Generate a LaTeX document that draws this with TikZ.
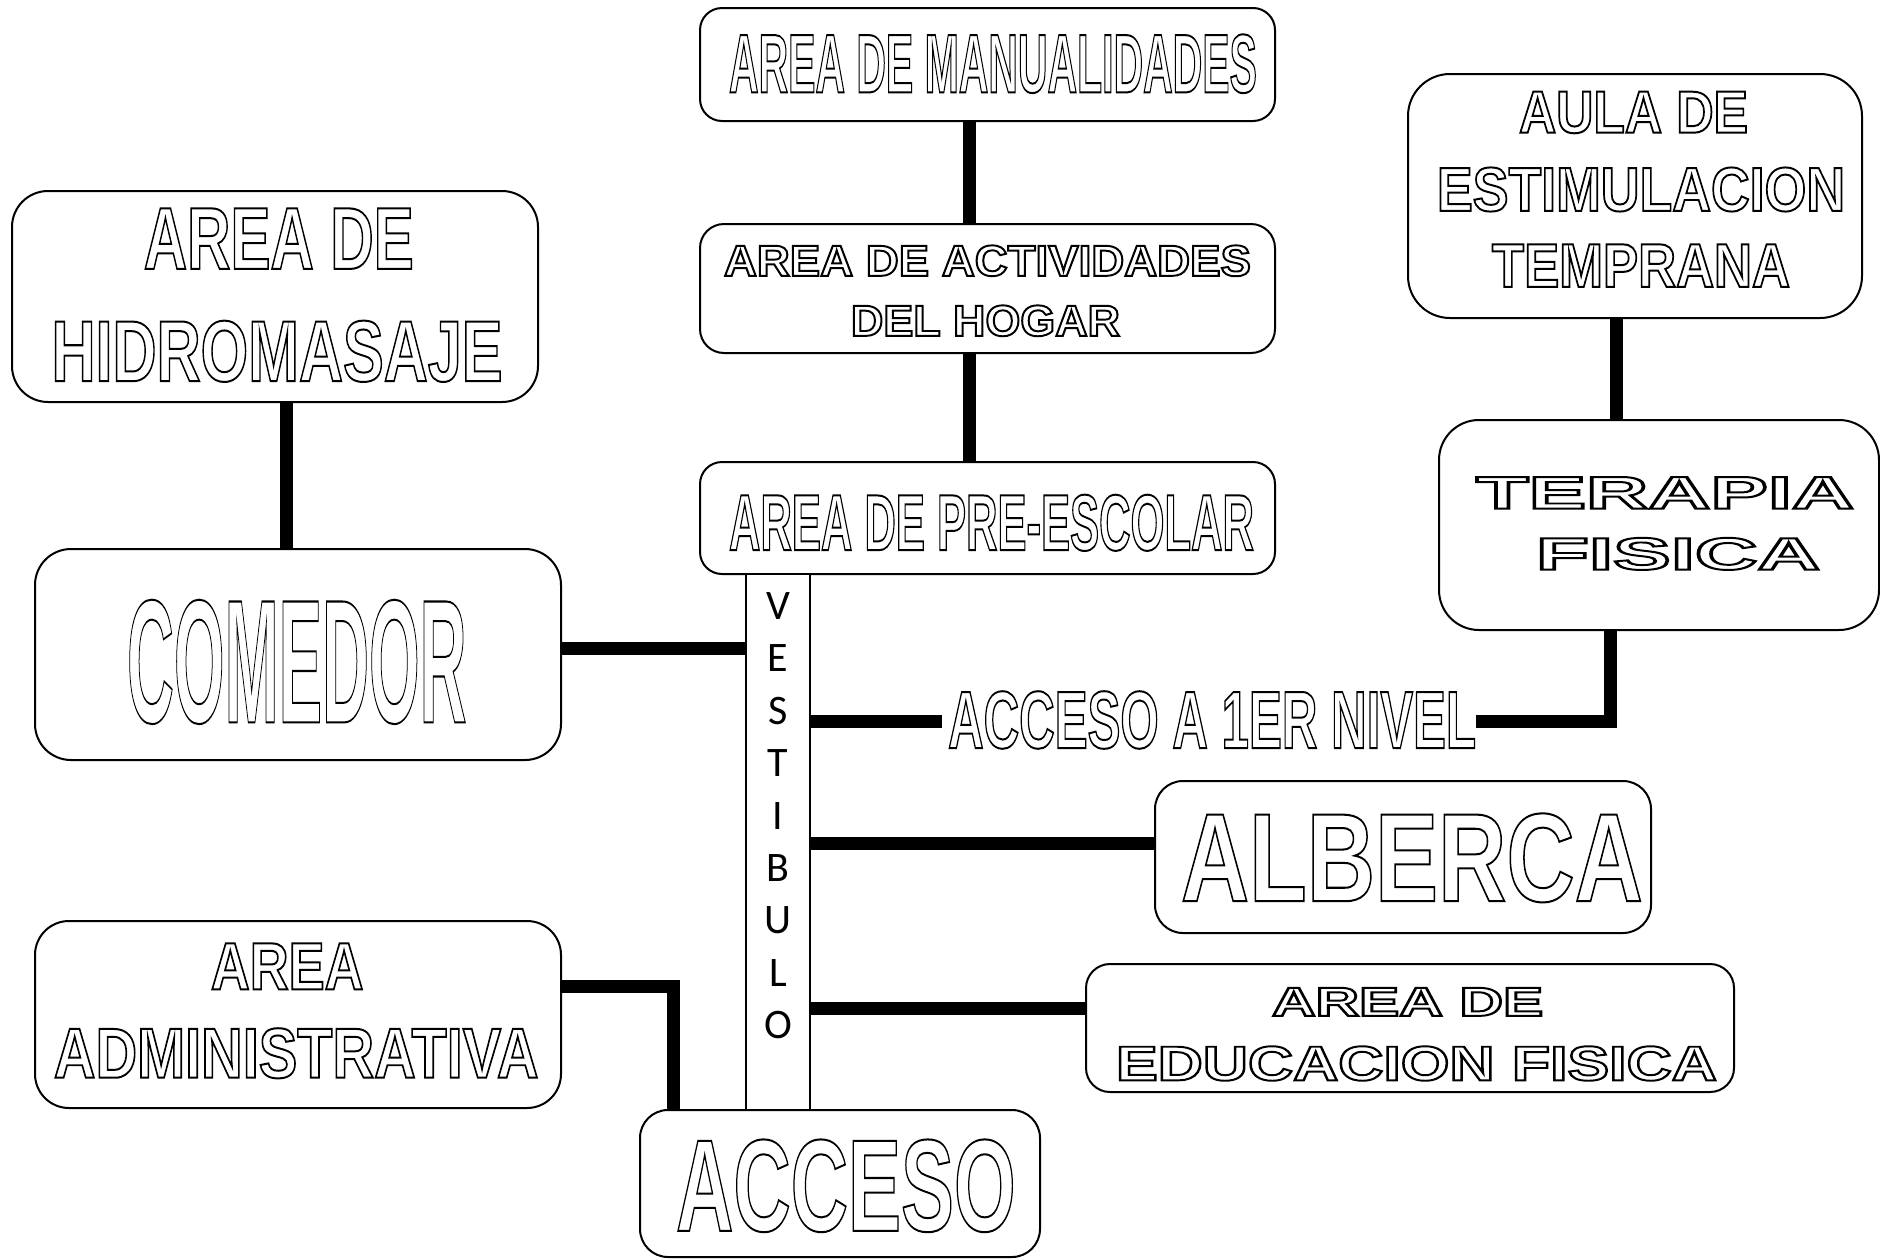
\documentclass[tikz,border=0pt]{standalone}
\usepackage{fontspec}
\usepackage{graphicx}
\setmainfont{Liberation Sans}
\newfontfamily\vfont{Carlito}
\newcommand\otext[3]{\resizebox{\dimexpr#1pt-2pt\relax}{\dimexpr#2pt-2pt\relax}{\fontsize{\dimexpr#2pt*100/72\relax}{\dimexpr#2pt*100/72\relax}\selectfont\bfseries\special{pdf:literal direct 1 Tr 2 w}#3\special{pdf:literal direct 0 Tr}}}
\tikzset{
  roombox/.style={draw=black, line width=2pt, fill=white, rounded corners=#1, inner sep=0pt, outer sep=0pt},
  lbl/.style={inner sep=0pt, outer sep=0pt},
  conn/.style={line width=13pt, line cap=butt, line join=miter},
  vlet/.style={inner sep=0pt, font=\vfont\fontsize{42}{42}\selectfont},
}
\begin{document}
\begin{tikzpicture}[x=1pt,y=-1pt]
\useasboundingbox[fill=white] (0,0) rectangle (1880,1259);
% boxes
\node[roombox=22pt, minimum width=575pt, minimum height=113pt] (man) at (987.5,64.5) {};
\node[roombox=24pt, minimum width=575pt, minimum height=129pt] (act) at (987.5,288.5) {};
\node[roombox=22pt, minimum width=575pt, minimum height=112pt] (pre) at (987.5,518) {};
\node[roombox=42pt, minimum width=454pt, minimum height=244pt] (est) at (1635,196) {};
\node[roombox=40pt, minimum width=440pt, minimum height=210pt] (ter) at (1659,525) {};
\node[roombox=36pt, minimum width=526pt, minimum height=211pt] (hid) at (275,296.5) {};
\node[roombox=36pt, minimum width=526pt, minimum height=211pt] (com) at (298,654.5) {};
\node[roombox=34pt, minimum width=526pt, minimum height=187pt] (adm) at (298,1014.5) {};
\node[roombox=28pt, minimum width=400pt, minimum height=147pt] (acc) at (840,1183.5) {};
\node[roombox=28pt, minimum width=496pt, minimum height=152pt] (alb) at (1403,857) {};
\node[roombox=24pt, minimum width=648pt, minimum height=128pt] (edu) at (1410,1028) {};
\node[draw, line width=2pt, fill=white, inner sep=0pt, outer sep=0pt, minimum width=64pt, minimum height=536pt] (ves) at (778,842) {};
% labels
\node[lbl] (manT) at (993,63.7) {\otext{530}{60}{AREA DE MANUALIDADES}};
\node[lbl] (actT1) at (987.5,260.8) {\otext{529}{32.4}{AREA DE ACTIVIDADES}};
\node[lbl] (actT2) at (985.5,320.8) {\otext{271}{32.5}{DEL HOGAR}};
\node[lbl] (preT) at (991.5,522.8) {\otext{527}{57.5}{AREA DE PRE-ESCOLAR}};
\node[lbl] (estT1) at (1633.5,112.5) {\otext{231}{43}{AULA DE}};
\node[lbl] (estT2) at (1641,189.5) {\otext{410}{45.5}{ESTIMULACION}};
\node[lbl] (estT3) at (1641,265.6) {\otext{300}{44.4}{TEMPRANA}};
\node[lbl] (terT1) at (1665,492.8) {\otext{380}{33.6}{TERAPIA}};
\node[lbl] (terT2) at (1678,553.9) {\otext{286}{33.7}{FISICA}};
\node[lbl] (hidT1) at (278.8,238.6) {\otext{272}{62.4}{AREA DE}};
\node[lbl] (hidT2) at (277,351.3) {\otext{453}{62.5}{HIDROMASAJE}};
\node[lbl] (comT) at (296.8,661.9) {\otext{341.6}{124.7}{COMEDOR}};
\node[lbl] (admT1) at (287.2,966.4) {\otext{154.7}{48}{AREA}};
\node[lbl] (admT2) at (296.2,1053.3) {\otext{486.7}{51.5}{ADMINISTRATIVA}};
\node[lbl] (accT) at (845.9,1185.8) {\otext{341.7}{93.5}{ACCESO}};
\node[lbl] (albT) at (1411.9,857.9) {\otext{464}{89.8}{ALBERCA}};
\node[lbl] (eduT1) at (1407.7,1001.8) {\otext{273.3}{30}{AREA DE}};
\node[lbl] (eduT2) at (1416.5,1063.5) {\otext{603}{36}{EDUCACION FISICA}};
\node[lbl] (niv) at (1212.1,720) {\otext{530}{58.8}{ACCESO A 1ER NIVEL}};
% vestibulo letters
\foreach \l [count=\i from 0] in {V,E,S,T,I,B,U,L,O}
  \node[vlet] (vl\i) at (778,606+52.4*\i) {\l};
% connectors
\coordinate (yC) at (0,648.6);
\coordinate (yN) at (0,721.5);
\coordinate (yA) at (0,843);
\coordinate (yE) at (0,1008.3);
\coordinate (yD) at (0,986.8);
\draw[conn] ([xshift=-18.5pt]man.south) -- ([xshift=-18.5pt]act.north);
\draw[conn] ([xshift=-18.5pt]act.south) -- ([xshift=-18.5pt]pre.north);
\draw[conn] ([xshift=11.6pt]hid.south) -- ([xshift=-11.4pt]com.north);
\draw[conn] ([xshift=-18.7pt]est.south) -- ([xshift=-42.7pt]ter.north);
\draw[conn] (com.east |- yC) -- (ves.west |- yC);
\draw[conn, shorten >=6pt] (ves.east |- yN) -- (niv.west |- yN);
\draw[conn] (niv.east |- yN) -| ([xshift=-49pt]ter.south);
\draw[conn] (ves.east |- yA) -- (alb.west |- yA);
\draw[conn] (ves.east |- yE) -- (edu.west |- yE);
\draw[conn] (adm.east |- yD) -| ([xshift=-166.2pt]acc.north);
\end{tikzpicture}
\end{document}
